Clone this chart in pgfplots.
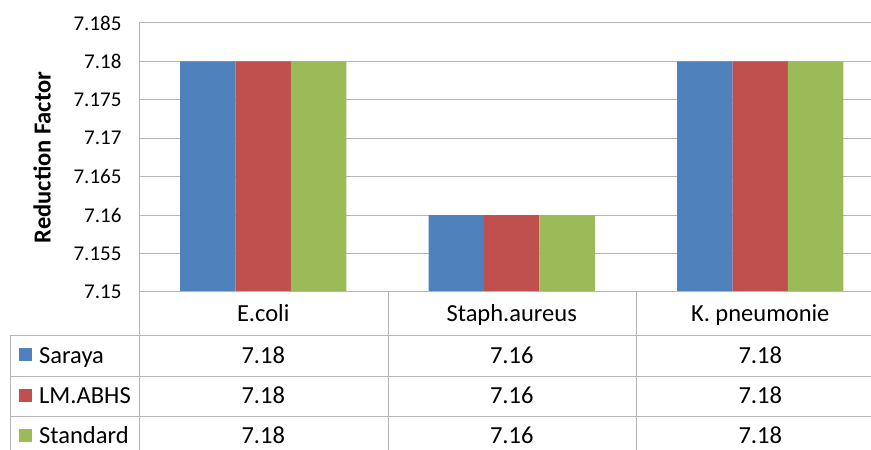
\documentclass[border=0pt]{standalone}
\usepackage{fontspec}
\setmainfont{Carlito}
\usepackage{pgfplots}
\usepackage{pgfplotstable}
\pgfplotsset{compat=1.18}
\definecolor{cblue}{HTML}{4F81BD}
\definecolor{cred}{HTML}{C0504D}
\definecolor{cgreen}{HTML}{9BBB59}
\definecolor{gridc}{RGB}{180,180,180}
\pgfplotstableread{
idx saraya lmabhs standard
0 7.18 7.18 7.18
1 7.16 7.16 7.16
2 7.18 7.18 7.18
}\datatable
\newcommand{\tabfont}{\fontsize{24.5}{29}\selectfont}
\begin{document}
\begin{tikzpicture}
\useasboundingbox (0pt,0pt) rectangle (871pt,450pt);
\begin{axis}[
  at={(139pt,158pt)}, anchor=south west,
  scale only axis, width=732pt, height=269pt,
  xmin=-0.5, xmax=2.4457, ymin=7.15, ymax=7.185,
  y coord trafo/.code={\pgfmathparse{#1-7.15}},
  y coord inv trafo/.code={\pgfmathparse{#1+7.15}},
  scaled y ticks=false,
  ytick={7.15,7.155,7.16,7.165,7.17,7.175,7.18,7.185},
  yticklabels={7.15,7.155,7.16,7.165,7.17,7.175,7.18,7.185},
  /pgf/number format/assume math mode=true,
  xtick=\empty,
  ymajorgrids, grid style={gridc, line width=1pt},
  axis line style={draw=none},
  major tick length=0pt,
  yticklabel style={font=\fontsize{21}{25}\selectfont, anchor=east, xshift=-14pt},
  ybar=0pt, bar width=55.4pt,
]
\addplot[fill=cblue, draw=none] table[x=idx, y=saraya] {\datatable};
\addplot[fill=cred, draw=none] table[x=idx, y=lmabhs] {\datatable};
\addplot[fill=cgreen, draw=none] table[x=idx, y=standard] {\datatable};
\end{axis}
% data table grid
\begin{scope}[gridc, line width=1pt]
\draw (139pt,427pt) -- (139pt,-20pt);
\draw (139pt,158pt) -- (880pt,158pt);
\draw (10pt,114pt) -- (880pt,114pt);
\draw (10pt,73pt) -- (880pt,73pt);
\draw (10pt,33pt) -- (880pt,33pt);
\draw (10pt,114pt) -- (10pt,-20pt);
\draw (388pt,158pt) -- (388pt,-20pt);
\draw (636pt,158pt) -- (636pt,-20pt);
\end{scope}
% y label
\node[rotate=90, font=\fontsize{24.5}{29}\selectfont\bfseries] at (42pt,292.5pt) {Reduction Factor};
% header row
\node[anchor=base, font=\tabfont] at (263.25pt,128.3pt) {E.coli};
\node[anchor=base, font=\tabfont] at (511.75pt,128.3pt) {Staph.aureus};
\node[anchor=base, font=\tabfont] at (760.25pt,128.3pt) {K. pneumonie};
% legend keys
\fill[cblue] (19pt,88.5pt) rectangle (32pt,101.5pt);
\fill[cred] (19pt,47.5pt) rectangle (32pt,60.5pt);
\fill[cgreen] (19pt,7.5pt) rectangle (32pt,20.5pt);
\node[anchor=base west, font=\tabfont, inner sep=0pt] at (39pt,86.7pt) {Saraya};
\node[anchor=base west, font=\tabfont, inner sep=0pt] at (39pt,46pt) {LM.ABHS};
\node[anchor=base west, font=\tabfont, inner sep=0pt] at (39pt,6pt) {Standard};
% values
\foreach \x/\a in {263.25/7.18, 511.75/7.16, 760.25/7.18}{
  \node[anchor=base, font=\tabfont] at (\x pt,86.7pt) {\a};
  \node[anchor=base, font=\tabfont] at (\x pt,46pt) {\a};
  \node[anchor=base, font=\tabfont] at (\x pt,6pt) {\a};
}
\end{tikzpicture}
\end{document}
